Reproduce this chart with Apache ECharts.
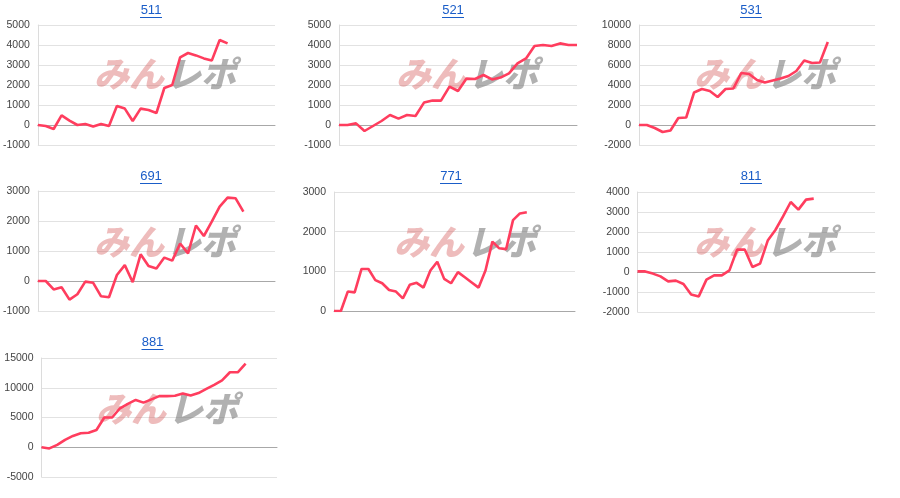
<!DOCTYPE html>
<html>
<head>
<meta charset="utf-8">
<script src="https://cdn.jsdelivr.net/npm/echarts@6/dist/echarts.min.js"></script>
<style>
html,body{margin:0;padding:0;background:#fff;}
#main{width:900px;height:498px;}
</style>
</head>
<body>
<div id="main"></div>
<script>
// ---- data ----
const titles = ['511', '521', '531', '691', '771', '811', '881'];

const days29 = ['1','2','3','4','5','6','7','8','9','10','11','12','13','14','15','16','17','18','19','20','21','22','23','24','25','26','27','28','29'];
const days31 = ['1','2','3','4','5','6','7','8','9','10','11','12','13','14','15','16','17','18','19','20','21','22','23','24','25','26','27','28','29','30','31'];
const days32 = ['1','2','3','4','5','6','7','8','9','10','11','12','13','14','15','16','17','18','19','20','21','22','23','24','25','26','27','28','29','30','31','32'];
const days36 = ['1','2','3','4','5','6','7','8','9','10','11','12','13','14','15','16','17','18','19','20','21','22','23','24','25','26','27','28','29','30','31','32','33','34','35','36'];

const v511 = [0, -50, -200, 480, 220, 0, 50, -80, 50, -50, 950, 820, 200, 820, 750, 600, 1850, 2000, 3380, 3600, 3480, 3330, 3220, 4250, 4080];
const v521 = [0, 0, 80, -300, -50, 200, 500, 320, 500, 450, 1120, 1220, 1220, 1920, 1700, 2320, 2300, 2500, 2280, 2370, 2580, 3080, 3330, 3950, 4000, 3950, 4080, 4000, 4000];
const v531 = [0, 0, -300, -700, -550, 700, 750, 3250, 3600, 3400, 2800, 3600, 3650, 5200, 5100, 4500, 4250, 4450, 4650, 4900, 5400, 6450, 6200, 6250, 8300];
const v691 = [0, 0, -280, -210, -620, -440, -20, -60, -510, -540, 200, 530, -40, 890, 500, 420, 780, 680, 1250, 920, 1850, 1500, 1980, 2480, 2780, 2760, 2310];
const v771 = [0, 0, 490, 470, 1060, 1060, 780, 700, 530, 490, 320, 660, 710, 590, 1020, 1240, 810, 700, 980, 850, 720, 590, 1020, 1750, 1580, 1560, 2290, 2460, 2490];
const v811 = [30, 30, -80, -220, -470, -430, -600, -1130, -1220, -380, -170, -170, 80, 1120, 1120, 250, 420, 1570, 2100, 2780, 3500, 3120, 3620, 3670];
const v881 = [0, -200, 400, 1250, 1900, 2350, 2450, 2900, 5000, 5000, 6550, 7300, 7950, 7500, 8050, 8600, 8600, 8650, 9050, 8700, 9100, 9800, 10500, 11250, 12600, 12600, 14050];

const yMins = [-1000, -1000, -2000, -1000, 0, -2000, -5000];
const yMaxs = [5000, 5000, 10000, 3000, 3000, 4000, 15000];
const yIntervals = [1000, 1000, 2000, 1000, 1000, 1000, 5000];

const seriesValues = [v511, v521, v531, v691, v771, v811, v881];
const seriesCats = [days31, days29, days31, days31, days36, days32, days31];

// ---- layout (pixels) ----
const grids = [
  {left: 37,    top: 25,  width: 238, height: 120},
  {left: 339,   top: 25,  width: 238, height: 120},
  {left: 639,   top: 25,  width: 236, height: 120},
  {left: 37,    top: 191, width: 238, height: 120},
  {left: 334,   top: 192, width: 241, height: 119},
  {left: 637.5, top: 192, width: 237.5, height: 120},
  {left: 41.5,  top: 358, width: 235.5, height: 119}
];
const titlePos = [
  [151, 10], [453, 10], [751, 10],
  [151, 176], [451, 176], [751, 176],
  [152.5, 342]
];
const wmPos = [
  [0, 0], [302, 0], [600, 0],
  [0, 168], [300, 168], [600, 168],
  [2, 335]
];

const LINE = '#ff3d5e';
const TITLE = '#1a5dc8';
const WMFONT = 'italic 900 35px "Noto Sans CJK JP", sans-serif';

const option = {
  animation: false,
  backgroundColor: '#fff',
  grid: [], xAxis: [], yAxis: [], series: [], graphic: []
};

for (let i = 0; i < titles.length; i++) {
  const g = grids[i];
  option.grid.push({left: g.left, top: g.top, width: g.width, height: g.height, containLabel: false});
  option.xAxis.push({
    type: 'category', gridIndex: i, data: seriesCats[i], boundaryGap: false,
    axisLabel: {show: false}, axisTick: {show: false},
    axisLine: {show: true, onZero: true, lineStyle: {color: '#a8a8a8', width: 1}},
    splitLine: {show: false}
  });
  option.yAxis.push({
    type: 'value', gridIndex: i, min: yMins[i], max: yMaxs[i], interval: yIntervals[i],
    axisLine: {show: true, lineStyle: {color: '#dcdcdc'}},
    axisTick: {show: false},
    axisLabel: {color: '#444', fontSize: 10.5, fontFamily: 'Liberation Sans, Arial, sans-serif', margin: 8,
      formatter: function (v) { return String(v); }},
    splitLine: {show: true, lineStyle: {color: '#e2e2e2', width: 1}}
  });
  option.series.push({
    type: 'line', xAxisIndex: i, yAxisIndex: i, data: seriesValues[i],
    symbol: 'none', smooth: false, z: 5,
    lineStyle: {color: LINE, width: 2.6}
  });
  // title with underline
  const tp = titlePos[i];
  option.graphic.push({
    type: 'group', x: tp[0], y: tp[1], z: 10,
    children: [
      {type: 'text', x: 0, y: 0, style: {text: titles[i], fill: TITLE, font: '13px "Liberation Sans", Arial, sans-serif', align: 'center', verticalAlign: 'middle'}},
      {type: 'rect', shape: {x: -11, y: 7, width: 22, height: 1}, style: {fill: TITLE}}
    ]
  });
  // watermark
  const wp = wmPos[i];
  option.graphic.push({
    type: 'group', x: wp[0], y: wp[1], z: 1, silent: true,
    children: [
      {type: 'text', x: 94, y: 56, z: 1,
        style: {text: 'みん', fill: 'rgba(215,95,95,0.42)', font: WMFONT}},
      {type: 'text', x: 166, y: 56, z: 1,
        style: {text: 'レポ', fill: 'rgba(125,125,125,0.6)', font: WMFONT}}
    ]
  });
}

const chart = echarts.init(document.getElementById('main'), null, {renderer: 'canvas'});
chart.setOption(option);
</script>
</body>
</html>
